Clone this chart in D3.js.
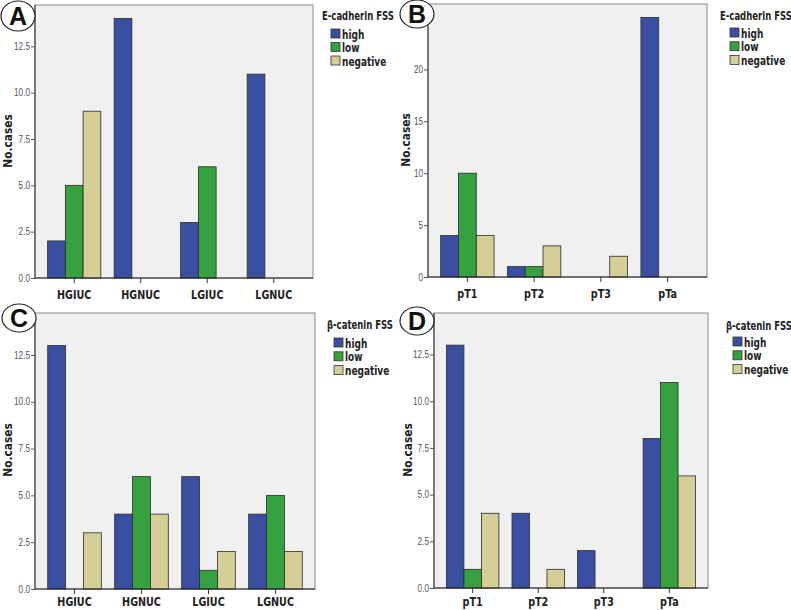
<!DOCTYPE html>
<html><head><meta charset="utf-8">
<script src="https://cdn.jsdelivr.net/npm/d3@7"></script>
<style>
body{margin:0;background:#fff;}
text.cond{font-family:"DejaVu Sans",sans-serif;}
</style></head>
<body><svg id="chart" width="791" height="610"></svg>
<script>
// ---- data ----
const gradeCategories = ["HGIUC","HGNUC","LGIUC","LGNUC"];
const stageCategories = ["pT1","pT2","pT3","pTa"];
const seriesNames = ["high","low","negative"];
const seriesColors = ["#3b4fa2","#36a23f","#d5ce97"];
const panelLetters = ["A","B","C","D"];
const legendTitles = ["E-cadherin FSS","E-cadherin FSS","β-catenin FSS","β-catenin FSS"];
const yAxisTitle = "No.cases";
// values per category: [high, low, negative]
const ecadGrade = [[2,5,9],[14,0,0],[3,6,0],[11,0,0]];
const ecadStage = [[4,10,4],[1,1,3],[0,0,2],[25,0,0]];
const bcatGrade = [[13,0,3],[4,6,4],[6,1,2],[4,5,2]];
const bcatStage = [[13,1,4],[4,0,1],[2,0,0],[8,11,6]];
const ticksDecimal = [0,2.5,5,7.5,10,12.5];
const ticksInteger = [0,5,10,15,20];

// ---- layout ----
const panels = [
  {cats:gradeCategories, vals:ecadGrade, ticks:ticksDecimal, fmt:".1f", yMax:14.73,
   x0:35,x1:313,y0:5,y1:278, circ:[18,16,17,15], yt:[8,141], xl:299,
   lg:{tx:322,ty:20,sx:331,sy:29,dy:13.5,lx:342}},
  {cats:stageCategories, vals:ecadStage, ticks:ticksInteger, fmt:"d", yMax:26.3,
   x0:428,x1:707,y0:4,y1:277, circ:[417,14,17,14], yt:[405.5,140], xl:298,
   lg:{tx:720,ty:20,sx:730,sy:28,dy:13.7,lx:741}},
  {cats:gradeCategories, vals:bcatGrade, ticks:ticksDecimal, fmt:".1f", yMax:14.74,
   x0:35,x1:315,y0:313,y1:589, circ:[19,318,17,14], yt:[8,450], xl:606,
   lg:{tx:327,ty:329,sx:334,sy:338,dy:13.8,lx:345}},
  {cats:stageCategories, vals:bcatStage, ticks:ticksDecimal, fmt:".1f", yMax:14.72,
   x0:434,x1:708,y0:313,y1:588, circ:[417,321,17,14], yt:[407.5,450], xl:606,
   lg:{tx:726,ty:330,sx:733,sy:337,dy:13.8,lx:744}}
];

const svg = d3.select("#chart");

panels.forEach((p,pi)=>{
  const g = svg.append("g");
  const x = d3.scaleBand().domain(p.cats).range([p.x0,p.x1]).paddingInner(0.2).paddingOuter(0.19);
  const xs = d3.scaleBand().domain(seriesNames).range([0,x.bandwidth()]);
  const y = d3.scaleLinear().domain([0,p.yMax]).range([p.y1,p.y0]);

  // frame
  g.append("rect").attr("x",p.x0).attr("y",p.y0).attr("width",p.x1-p.x0).attr("height",p.y1-p.y0)
    .attr("fill","#f0f0f0").attr("stroke","#8a8a8a").attr("stroke-width",1);

  // bars
  p.cats.forEach((c,ci)=>{
    seriesNames.forEach((s,si)=>{
      const v = p.vals[ci][si];
      if(!v) return;
      g.append("rect")
        .attr("x",x(c)+xs(s)).attr("y",y(v))
        .attr("width",xs.bandwidth()).attr("height",y(0)-y(v))
        .attr("fill",seriesColors[si]).attr("stroke","#2b2b2b").attr("stroke-width",0.8);
    });
  });

  // y axis
  const ya = g.append("g").attr("transform",`translate(${p.x0},0)`)
    .call(d3.axisLeft(y).tickValues(p.ticks).tickFormat(d3.format(p.fmt)).tickSize(4).tickSizeOuter(0));
  ya.select(".domain").attr("stroke","#333").attr("d",`M0,${p.y0}V${p.y1}`);
  ya.selectAll(".tick line").attr("stroke","#555");
  ya.selectAll(".tick text").attr("fill","#555").attr("font-size",10)
    .style("font-family","'Liberation Sans','DejaVu Sans',sans-serif")
    .attr("x",0).attr("transform","translate(-5,0) scale(0.82,1)");

  // x axis
  const xa = g.append("g").attr("transform",`translate(0,${p.y1})`)
    .call(d3.axisBottom(x).tickSize(5).tickSizeOuter(0));
  xa.select(".domain").attr("stroke","#222").attr("d",`M${p.x0},0H${p.x1}`);
  xa.selectAll(".tick line").attr("stroke","#333");
  xa.selectAll(".tick text").attr("class","cond").attr("fill","#222").attr("font-size",13).attr("font-weight","bold")
    .attr("dy",null).attr("y",0).attr("transform",`translate(0,${p.xl-p.y1}) scale(0.74,1)`);

  // y title
  g.append("text").attr("class","cond").attr("transform",`translate(${p.yt[0]},${p.yt[1]}) rotate(-90) scale(0.85,1)`)
    .attr("text-anchor","middle").attr("dominant-baseline","central")
    .attr("font-size",12.5).attr("font-weight","bold").attr("fill","#222").text(yAxisTitle);

  // legend
  const lg = g.append("g");
  lg.append("text").attr("class","cond").attr("transform",`translate(${p.lg.tx},${p.lg.ty}) scale(0.74,1)`)
    .attr("font-size",11.5).attr("font-weight","bold").attr("fill","#222").text(legendTitles[pi]);
  seriesNames.forEach((s,si)=>{
    const yy = p.lg.sy + si*p.lg.dy;
    lg.append("rect").attr("x",p.lg.sx).attr("y",yy).attr("width",9).attr("height",9)
      .attr("fill",seriesColors[si]).attr("stroke","#333").attr("stroke-width",0.8);
    lg.append("text").attr("class","cond").attr("transform",`translate(${p.lg.lx},${yy+9.5}) scale(0.72,1)`)
      .attr("font-size",12.5).attr("font-weight","bold").attr("fill","#222").text(s);
  });

  // panel letter
  g.append("ellipse").attr("cx",p.circ[0]).attr("cy",p.circ[1]).attr("rx",p.circ[2]).attr("ry",p.circ[3])
    .attr("fill","#fff").attr("stroke","#222").attr("stroke-width",1.2);
  g.append("text").attr("x",p.circ[0]).attr("y",p.circ[1]+9).attr("text-anchor","middle")
    .style("font-family","'Liberation Sans','DejaVu Sans',sans-serif")
    .attr("font-size",25).attr("font-weight","bold").attr("fill","#111").text(panelLetters[pi]);
});
</script></body></html>
